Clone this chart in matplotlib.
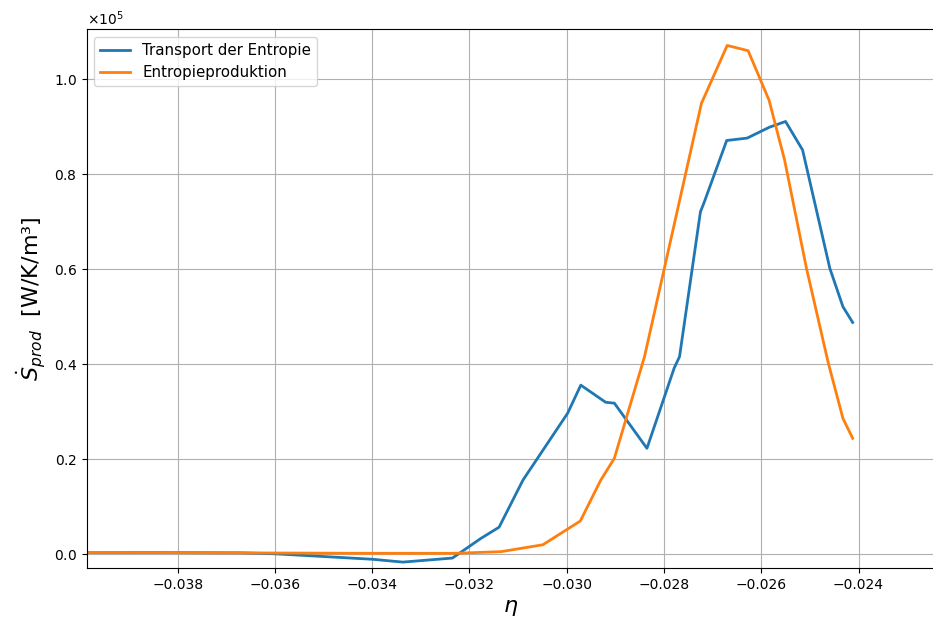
import matplotlib
matplotlib.use("Agg")
import matplotlib.pyplot as plt
import numpy as np

# Transport der Entropie (eta, value in 1e5 W/K/m^3)
eta_transport = [-0.03990, -0.03670, -0.03600, -0.03400, -0.03337, -0.03235,
                 -0.03177, -0.03139, -0.03090, -0.02998, -0.02971, -0.02920,
                 -0.02902, -0.02835, -0.02779, -0.02768, -0.02725, -0.02718,
                 -0.02671, -0.02629, -0.02583, -0.02550, -0.02515, -0.02459,
                 -0.02432, -0.02412]
s_transport = [0.004, 0.003, 0.001, -0.0105, -0.0165, -0.008,
               0.033, 0.057, 0.156, 0.297, 0.356, 0.320,
               0.318, 0.223, 0.392, 0.416, 0.721, 0.739,
               0.871, 0.876, 0.899, 0.911, 0.851, 0.602,
               0.521, 0.488]

# Entropieproduktion
eta_production = [-0.03990, -0.03700, -0.03400, -0.03230, -0.03135, -0.03049,
                  -0.02972, -0.02930, -0.02902, -0.02840, -0.02723, -0.02670,
                  -0.02627, -0.02584, -0.02552, -0.02507, -0.02462, -0.02432,
                  -0.02412]
s_production = [0.004, 0.003, 0.002, 0.002, 0.0055, 0.020,
                0.070, 0.156, 0.202, 0.416, 0.949, 1.071,
                1.060, 0.956, 0.830, 0.602, 0.402, 0.286,
                0.244]

scale = 1e5

fig = plt.figure(figsize=(9.33, 6.21), dpi=100)
ax = fig.add_axes([0.0929, 0.0849, 0.9091, 0.8679])

ax.plot(eta_transport, np.array(s_transport) * scale, color="#1f77b4",
        lw=2, label="Transport der Entropie")
ax.plot(eta_production, np.array(s_production) * scale, color="#ff7f0e",
        lw=2, label="Entropieproduktion")

ax.set_xlim(-0.03987, -0.02243)
ax.set_ylim(-0.0295 * scale, 1.105 * scale)
ax.set_xticks([-0.038, -0.036, -0.034, -0.032, -0.030, -0.028, -0.026, -0.024])
ax.set_yticks(np.array([0.0, 0.2, 0.4, 0.6, 0.8, 1.0]) * scale)
ax.ticklabel_format(axis="y", style="sci", scilimits=(0, 0), useMathText=True)
ax.grid(True, color="#b0b0b0", lw=0.8)

ax.set_xlabel(r"$\eta$", fontsize=16)
ax.set_ylabel(r"$\dot{S}_{prod}$  [W/K/m³]", fontsize=16)
ax.legend(loc="upper left", fontsize=10.8)

fig.savefig("out.png", dpi=100)
